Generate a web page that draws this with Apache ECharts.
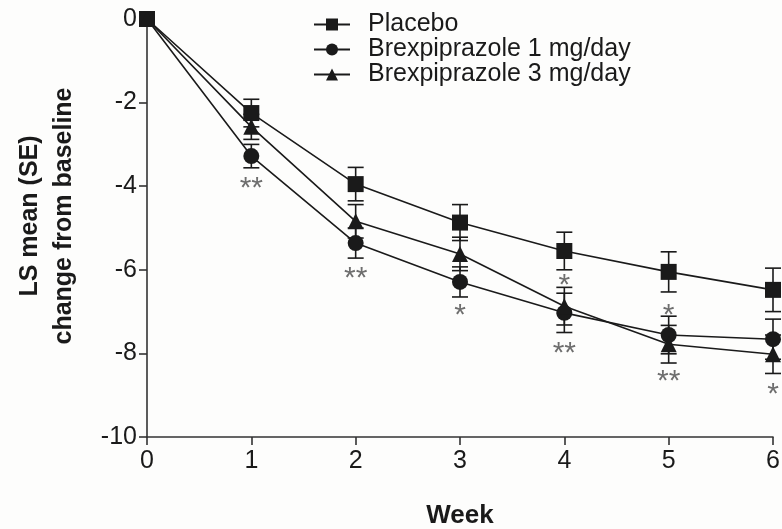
<!DOCTYPE html>
<html>
<head>
<meta charset="utf-8">
<script src="https://cdn.jsdelivr.net/npm/echarts@6/dist/echarts.min.js"></script>
<style>
  html, body { margin: 0; padding: 0; background: #fdfdfc; }
  #mychart { width: 782px; height: 529px; }
</style>
</head>
<body>
<div id="mychart"></div>
<script>
// 周数
var weeks = [0, 1, 2, 3, 4, 5, 6];
// 各组均值 (LS mean)
var placeboMean = [0, -2.25, -3.95, -4.87, -5.55, -6.05, -6.48];
var brex1Mean = [0, -3.28, -5.36, -6.29, -7.03, -7.56, -7.66];
var brex3Mean = [0, -2.58, -4.84, -5.62, -6.87, -7.78, -8.02];
// 标准误 (SE)
var placeboSE = [0, 0.33, 0.4, 0.43, 0.45, 0.48, 0.52];
var brex1SE = [0, 0.28, 0.36, 0.36, 0.47, 0.45, 0.48];
var brex3SE = [0, 0.3, 0.4, 0.4, 0.45, 0.45, 0.46];
// 显著性星号: [周, 位置, 文字]
var starWeeks = [1, 2, 3, 4, 4, 5, 5, 6];
var starY = [-3.9, -6.05, -6.94, -6.22, -7.85, -6.94, -8.52, -8.83];
var starText = ['**', '**', '*', '*', '**', '*', '**', '*'];
var yTicks = [0, -2, -4, -6, -8, -10];

var font = '"Liberation Sans", Arial, sans-serif';
var ink = '#1a1a1a';

function pairs(means) {
    return weeks.map(function (w, i) { return [w, means[i]]; });
}
function errData(means, ses) {
    return weeks.map(function (w, i) { return [w, means[i], ses[i]]; });
}

// 误差线
function errorSeries(means, ses) {
    return {
        type: 'custom',
        silent: true,
        z: 2,
        data: errData(means, ses),
        renderItem: function (params, api) {
            var x = api.value(0), m = api.value(1), s = api.value(2);
            if (!s) return null;
            var top = api.coord([x, m + s]);
            var bot = api.coord([x, m - s]);
            var hw = 8;
            var style = { stroke: ink, lineWidth: 1.6 };
            return {
                type: 'group',
                children: [
                    { type: 'line', shape: { x1: top[0], y1: top[1], x2: bot[0], y2: bot[1] }, style: style },
                    { type: 'line', shape: { x1: top[0] - hw, y1: top[1], x2: top[0] + hw, y2: top[1] }, style: style },
                    { type: 'line', shape: { x1: bot[0] - hw, y1: bot[1], x2: bot[0] + hw, y2: bot[1] }, style: style }
                ]
            };
        }
    };
}

function lineSeries(name, means, symbol, size) {
    return {
        name: name,
        type: 'line',
        data: pairs(means),
        symbol: symbol,
        symbolSize: size,
        showAllSymbol: true,
        clip: false,
        z: 3,
        lineStyle: { color: ink, width: 1.6 },
        itemStyle: { color: ink, borderWidth: 0 }
    };
}

var myChart = echarts.init(document.getElementById('mychart'));
var option = {
    backgroundColor: '#fdfdfc',
    animation: false,
    textStyle: { fontFamily: font },
    grid: { left: 147, right: 9, top: 19, bottom: 92, outerBoundsMode: 'none' },
    legend: {
        orient: 'vertical',
        left: 308,
        top: 7,
        itemWidth: 36,
        itemHeight: 15,
        itemGap: 0,
        data: ['Placebo', 'Brexpiprazole 1 mg/day', 'Brexpiprazole 3 mg/day'],
        textStyle: { fontSize: 25, color: ink, fontFamily: font, padding: [0, 0, 0, 13] }
    },
    xAxis: {
        type: 'value',
        min: 0,
        max: 6,
        interval: 1,
        name: 'Week',
        nameLocation: 'middle',
        nameGap: 66,
        nameTextStyle: { fontSize: 26, fontWeight: 'bold', color: ink, fontFamily: font },
        axisLine: { onZero: false, lineStyle: { color: '#333', width: 1.6 } },
        axisTick: { show: true, length: 8, lineStyle: { color: '#333', width: 1.6 } },
        axisLabel: { fontSize: 25, color: ink, margin: 12 },
        splitLine: { show: false }
    },
    yAxis: {
        type: 'value',
        min: -10,
        max: 0,
        interval: 2,
        name: 'LS mean (SE)\nchange from baseline',
        nameLocation: 'middle',
        nameRotate: 90,
        nameGap: 66,
        nameTextStyle: {
            fontSize: 25, fontWeight: 'bold', color: ink, fontFamily: font,
            lineHeight: 34, padding: [0, 0, 0, 24]
        },
        axisLine: { show: true, lineStyle: { color: '#333', width: 1.6 } },
        axisTick: { show: true, length: 8, lineStyle: { color: '#333', width: 1.6 } },
        axisLabel: {
            fontSize: 25, color: ink, margin: 10,
            formatter: function (v) { return yTicks.indexOf(v) >= 0 ? String(v) : ''; }
        },
        splitLine: { show: false }
    },
    series: [
        errorSeries(placeboMean, placeboSE),
        errorSeries(brex1Mean, brex1SE),
        errorSeries(brex3Mean, brex3SE),
        lineSeries('Placebo', placeboMean, 'rect', 16),
        lineSeries('Brexpiprazole 1 mg/day', brex1Mean, 'circle', 16),
        lineSeries('Brexpiprazole 3 mg/day', brex3Mean, 'triangle', 16),
        {
            type: 'scatter',
            silent: true,
            symbolSize: 0,
            z: 4,
            data: starWeeks.map(function (w, i) { return [w, starY[i], starText[i]]; }),
            label: {
                show: true,
                position: 'inside',
                offset: [0, 7],
                formatter: function (p) { return p.value[2]; },
                fontSize: 30,
                color: '#4a4a4a',
                fontFamily: font
            }
        }
    ]
};
myChart.setOption(option);
</script>
</body>
</html>
